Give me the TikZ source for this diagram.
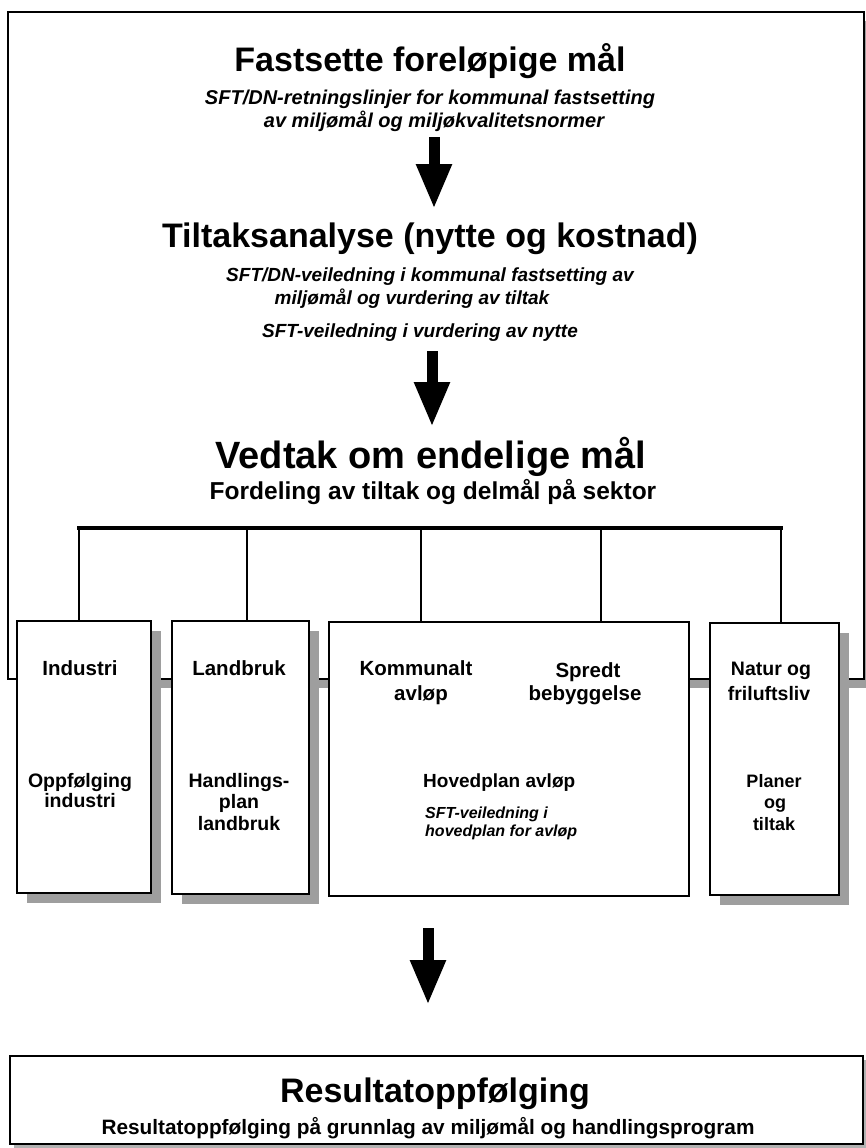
\documentclass[tikz,border=0pt]{standalone}
\usepackage{fontspec}
\setmainfont{Liberation Sans}
\usetikzlibrary{shadows,arrows.meta}
\begin{document}
\begin{tikzpicture}[x=1pt,y=-1pt,
  shadowed/.style={drop shadow={shadow xshift=10pt,shadow yshift=-10pt,fill=black!38,opacity=1}},
  framebox/.style={draw,line width=1.8pt,fill=white,inner sep=0pt,anchor=north west},
  sectorbox/.style={draw,line width=2.3pt,fill=white,inner sep=0pt,anchor=north west},
  heading/.style={font=\bfseries\fontsize{34}{38}\selectfont,anchor=base,inner sep=0pt},
  guideA/.style={font=\bfseries\itshape\fontsize{20}{22}\selectfont,anchor=base,inner sep=0pt},
  guideB/.style={font=\bfseries\itshape\fontsize{19}{21}\selectfont,anchor=base,inner sep=0pt},
  guideC/.style={font=\bfseries\itshape\fontsize{16}{18}\selectfont,anchor=base west,inner sep=0pt},
  sublabel/.style={font=\bfseries\fontsize{24.5}{27}\selectfont,anchor=base,inner sep=0pt},
  sector/.style={font=\bfseries\fontsize{20.5}{23}\selectfont,anchor=base,inner sep=0pt},
  sectorsub/.style={font=\bfseries\fontsize{19.5}{22}\selectfont,anchor=base,inner sep=0pt},
  bigarrow/.style={line width=11pt,-{Triangle[width=33pt,length=45pt]}},
  busline/.style={line width=3.5pt,line cap=rect},
  dropline/.style={line width=2.8pt}
]
\useasboundingbox (0,0) rectangle (865,1148);
\fill[white] (0,0) rectangle (865,1148);

% outer frame
\node[framebox, minimum width=856pt, minimum height=667pt,
  drop shadow={shadow xshift=8pt,shadow yshift=-9pt,fill=black!38,opacity=1}] (frame) at (7,11) {};

% stage 1
\node[heading] (t1) at (430,71) {Fastsette foreløpige mål};
\node[guideA] (t1a) at (430,104) {SFT/DN-retningslinjer for kommunal fastsetting};
\node[guideA] (t1b) at (434,127) {av miljømål og miljøkvalitetsnormer};
\coordinate (a1s) at (434,137);
\coordinate (a1e) at (434,209);
\draw[bigarrow] (a1s) -- (a1e);

% stage 2
\node[heading] (t2) at (430,247) {Tiltaksanalyse (nytte og kostnad)};
\node[guideB] (t2a) at (430,281) {SFT/DN-veiledning i kommunal fastsetting av};
\node[guideB] (t2b) at (412,304) {miljømål og vurdering av tiltak};
\node[guideB] (t2c) at (420,337) {SFT-veiledning i vurdering av nytte};
\coordinate (a2s) at (432,351);
\coordinate (a2e) at (432,427);
\draw[bigarrow] (a2s) -- (a2e);

% stage 3
\node[heading, font=\bfseries\fontsize{38}{42}\selectfont] (t3) at (431,468) {Vedtak om endelige mål};
\node[sublabel] (t3a) at (433,499) {Fordeling av tiltak og delmål på sektor};

% sector boxes
\node[sectorbox, shadowed, minimum width=134pt, minimum height=272pt] (ind) at (16,620) {};
\node[sectorbox, shadowed, minimum width=137pt, minimum height=273pt] (lan) at (171,620) {};
\node[sectorbox, minimum width=360pt, minimum height=274pt] (kom) at (328,621) {};
\node[sectorbox, shadowed, minimum width=129pt, minimum height=272pt] (nat) at (709,622) {};

% bus
\coordinate (bA) at (79,528);
\coordinate (bB) at (247,528);
\coordinate (bC) at (421,528);
\coordinate (bD) at (601,528);
\coordinate (bE) at (781,528);
\draw[busline] (bA) -- (bE);
\draw[dropline] (bA) -- (bA |- ind.north);
\draw[dropline] (bB) -- (bB |- lan.north);
\draw[dropline] (bC) -- (bC |- kom.north);
\draw[dropline] (bD) -- (bD |- kom.north);
\draw[dropline] (bE) -- (bE |- nat.north);

% box texts
\node[sector] (i1) at (80,675) {Industri};
\node[sectorsub] (i2) at (80,787) {Oppfølging};
\node[sectorsub] (i3) at (80,807) {industri};

\node[sector] (l1) at (239,675) {Landbruk};
\node[sectorsub] (l2) at (239,787) {Handlings-};
\node[sectorsub] (l3) at (239,808) {plan};
\node[sectorsub] (l4) at (239,830) {landbruk};

\node[sector] (k1) at (416,675) {Kommunalt};
\node[sector] (k2) at (421,700) {avløp};
\node[sector] (s1) at (588,677) {Spredt};
\node[sector] (s2) at (585,700) {bebyggelse};
\node[sectorsub, anchor=base west, font=\bfseries\fontsize{19}{21}\selectfont] (h1) at (423,787) {Hovedplan avløp};
\node[guideC] (h2) at (425,818) {SFT-veiledning i};
\node[guideC] (h3) at (425,836) {hovedplan for avløp};

\node[sectorsub, font=\bfseries\fontsize{19.5}{22}\selectfont] (n1) at (771,675) {Natur og};
\node[sectorsub, font=\bfseries\fontsize{19.5}{22}\selectfont] (n2) at (769,700) {friluftsliv};
\node[sectorsub, font=\bfseries\fontsize{18}{20}\selectfont] (n3) at (774,787) {Planer};
\node[sectorsub, font=\bfseries\fontsize{18}{20}\selectfont] (n4) at (775,808) {og};
\node[sectorsub, font=\bfseries\fontsize{18}{20}\selectfont] (n5) at (774,830) {tiltak};

% final arrow and result box
\coordinate (a3s) at (428,928);
\coordinate (a3e) at (428,1005);
\draw[bigarrow] (a3s) -- (a3e);

\node[sectorbox, line width=2pt, minimum width=853pt, minimum height=88pt,
  drop shadow={shadow xshift=4pt,shadow yshift=-4pt,fill=black!30,opacity=1}] (res) at (9,1055) {};
\node[heading] (t4) at (435,1102) {Resultatoppfølging};
\node[sublabel, font=\bfseries\fontsize{20.8}{23}\selectfont] (t4a) at (428,1134) {Resultatoppfølging på grunnlag av miljømål og handlingsprogram};
\end{tikzpicture}
\end{document}
